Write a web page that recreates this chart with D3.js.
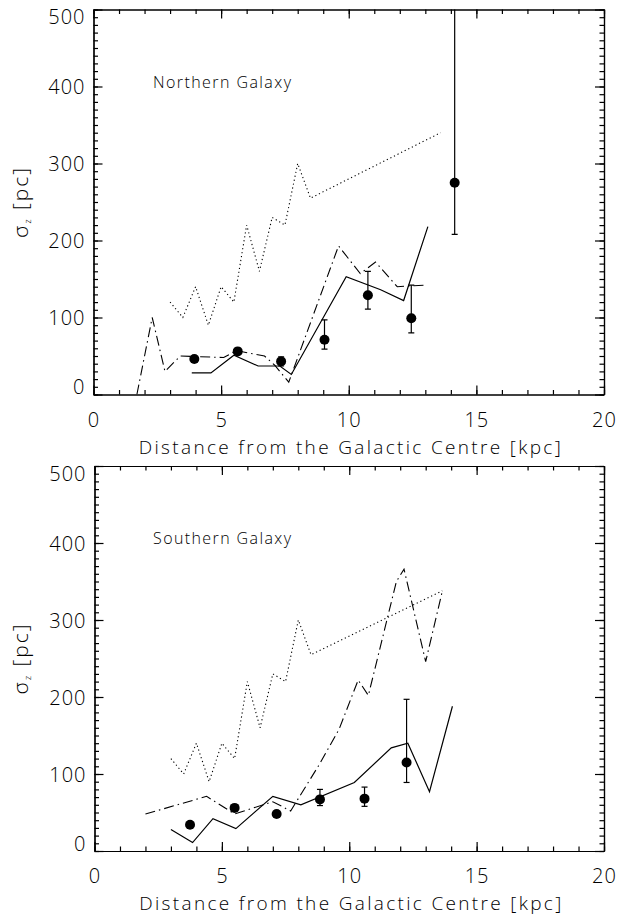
<!DOCTYPE html>
<html>
<head>
<meta charset="utf-8">
<script src="https://cdn.jsdelivr.net/npm/d3@7"></script>
<style>
  body { margin: 0; background: #fff; }
  text { font-family: "Open Sans", "DejaVu Sans", sans-serif; font-weight: 300; fill: #000; }
</style>
</head>
<body>
<svg id="chart" width="621" height="915"></svg>
<script>
// Axis ticks
const xMajor = [0, 5, 10, 15, 20];
const yMajor = [0, 100, 200, 300, 400, 500];
const xTitle = "Distance from the Galactic Centre [kpc]";

// Northern galaxy: model curves [R (kpc), sigma_z (pc)]
const northDotted = [[3,120],[3.5,100],[4,140],[4.5,90],[5,140],[5.5,120],[6,220],[6.5,160],[7,230],[7.5,220],[8,300],[8.5,255],[13.6,340]];
const northDashDot = [[1.7,0],[2.3,100],[2.8,30],[3.4,50],[5.1,48],[5.6,57],[6.7,50],[7.1,38],[7.65,16],[9.6,193],[10.45,157],[11.05,172],[11.9,140],[12.95,142]];
const northSolid = [[3.85,28],[4.6,28],[5.5,51],[6.45,37],[7.3,37],[7.75,26],[9.9,153],[11.25,136],[12.15,122],[13.1,218]];
// Northern galaxy: measurements with error ranges
const northR    = [3.95, 5.65, 7.35, 9.05, 10.75, 12.45, 14.15];
const northSig  = [46, 56, 43, 71, 129, 99, 275];
const northLow  = [42, 52, 37, 59, 111, 80, 208];
const northHigh = [50, 60, 49, 97, 160, 142, 560];

// Southern galaxy: model curves
const southDotted = [[3,120],[3.5,100],[4,140],[4.5,90],[5,140],[5.5,120],[6,220],[6.5,160],[7,230],[7.5,220],[8,300],[8.5,255],[13.65,338]];
const southDashDot = [[2,48],[4.4,71],[5.5,48],[7.0,64],[7.7,52],[8.8,111],[9.6,158],[10.35,222],[10.75,202],[11.85,350],[12.15,366],[13.0,246],[13.65,337]];
const southSolid = [[3,28],[3.85,11],[4.65,42],[5.55,29],[7.0,71],[8.1,60],[10.2,89],[11.65,134],[12.3,140],[13.15,77],[14.05,188]];
// Southern galaxy: measurements
const southR    = [3.75, 5.5, 7.15, 8.85, 10.6, 12.25];
const southSig  = [34, 56, 48, 67, 68, 115];
const southLow  = [30, 52, 44, 59, 58, 89];
const southHigh = [38, 60, 52, 80, 83, 197];

const svg = d3.select("#chart");

const panels = [
  { id: "n", name: "Northern Galaxy", box: { l: 93.5, r: 604, t: 9.5, b: 394.5 },
    dotted: northDotted, dashdot: northDashDot, solid: northSolid,
    R: northR, sig: northSig, lo: northLow, hi: northHigh },
  { id: "s", name: "Southern Galaxy", box: { l: 94.5, r: 604, t: 466, b: 851 },
    dotted: southDotted, dashdot: southDashDot, solid: southSolid,
    R: southR, sig: southSig, lo: southLow, hi: southHigh }
];

panels.forEach(p => {
  const { l, r, t, b } = p.box;
  const x = d3.scaleLinear().domain([0, 20]).range([l, r]);
  const y = d3.scaleLinear().domain([0, 500]).range([b, t]);

  const g = svg.append("g");

  svg.append("clipPath").attr("id", "clip-" + p.id)
    .append("rect").attr("x", l).attr("y", t).attr("width", r - l).attr("height", b - t);

  // Minor ticks (inward)
  const xMinor = d3.range(0, 21, 1);
  const yMinor = d3.range(0, 501, 10);
  const minor = (axis) => axis.tickSize(-4.5).tickSizeOuter(0).tickFormat("");
  g.append("g").attr("transform", `translate(0,${b})`).call(minor(d3.axisBottom(x).tickValues(xMinor)));
  g.append("g").attr("transform", `translate(0,${t})`).call(minor(d3.axisTop(x).tickValues(xMinor)));
  g.append("g").attr("transform", `translate(${l},0)`).call(minor(d3.axisLeft(y).tickValues(yMinor)));
  g.append("g").attr("transform", `translate(${r},0)`).call(minor(d3.axisRight(y).tickValues(yMinor)));

  // Major ticks with labels on bottom and left
  g.append("g").attr("transform", `translate(0,${b})`)
    .call(d3.axisBottom(x).tickValues(xMajor).tickSize(-9).tickSizeOuter(0).tickPadding(18).tickFormat(d3.format("d")));
  g.append("g").attr("transform", `translate(0,${t})`)
    .call(d3.axisTop(x).tickValues(xMajor).tickSize(-9).tickSizeOuter(0).tickFormat(""));
  const left = g.append("g").attr("transform", `translate(${l},0)`)
    .call(d3.axisLeft(y).tickValues(yMajor).tickSize(-9).tickSizeOuter(0).tickPadding(8).tickFormat(d3.format("d")));
  g.append("g").attr("transform", `translate(${r},0)`)
    .call(d3.axisRight(y).tickValues(yMajor).tickSize(-9).tickSizeOuter(0).tickFormat(""));

  g.selectAll(".domain, .tick line").attr("stroke", "#000").attr("stroke-width", 1.2);
  g.selectAll(".tick text").attr("font-size", 20).attr("letter-spacing", 1)
    .style("font-family", '"Open Sans", "DejaVu Sans", sans-serif').style("font-weight", 300);
  // keep end labels of the value axis inside the frame
  left.selectAll(".tick text").attr("dy", d => d === 0 ? "-0.05em" : d === 500 ? "0.72em" : "0.35em");

  // Axis titles
  svg.append("text")
    .attr("x", (l + r) / 2 + 1).attr("y", b + 59)
    .attr("text-anchor", "middle").attr("font-size", 19)
    .attr("textLength", 422).attr("lengthAdjust", "spacing")
    .text(xTitle);

  const yt = svg.append("text")
    .attr("transform", `translate(28,${(t + b) / 2}) rotate(-90)`)
    .attr("text-anchor", "middle").attr("font-size", 21).attr("letter-spacing", 2);
  yt.append("tspan").text("\u03C3");
  yt.append("tspan").attr("font-size", 9).attr("dy", 3).text("z");
  yt.append("tspan").attr("dy", -3).text(" [pc]");

  // Panel name
  svg.append("text")
    .attr("x", 153).attr("y", t + 78)
    .attr("font-size", 16).attr("textLength", 138).attr("lengthAdjust", "spacing")
    .text(p.name);

  // Model curves
  const plot = svg.append("g").attr("clip-path", `url(#clip-${p.id})`);
  const line = d3.line().x(d => x(d[0])).y(d => y(d[1]));
  plot.append("path").datum(p.dotted).attr("d", line)
    .attr("fill", "none").attr("stroke", "#000").attr("stroke-width", 1.1).attr("stroke-dasharray", "1.2,2.8");
  plot.append("path").datum(p.dashdot).attr("d", line)
    .attr("fill", "none").attr("stroke", "#000").attr("stroke-width", 1.1).attr("stroke-dasharray", "10,4,1.5,4");
  plot.append("path").datum(p.solid).attr("d", line)
    .attr("fill", "none").attr("stroke", "#000").attr("stroke-width", 1.2);

  // Measurements with error bars
  const pts = p.R.map((R, i) => ({ R, v: p.sig[i], lo: p.lo[i], hi: p.hi[i] }));
  const eb = plot.selectAll("g.obs").data(pts).enter().append("g").attr("class", "obs");
  eb.append("line").attr("x1", d => x(d.R)).attr("x2", d => x(d.R))
    .attr("y1", d => y(d.lo)).attr("y2", d => y(d.hi)).attr("stroke", "#000").attr("stroke-width", 1.2);
  eb.append("line").attr("x1", d => x(d.R) - 3).attr("x2", d => x(d.R) + 3)
    .attr("y1", d => y(d.lo)).attr("y2", d => y(d.lo)).attr("stroke", "#000").attr("stroke-width", 1.2);
  eb.append("line").attr("x1", d => x(d.R) - 3).attr("x2", d => x(d.R) + 3)
    .attr("y1", d => y(d.hi)).attr("y2", d => y(d.hi)).attr("stroke", "#000").attr("stroke-width", 1.2);
  eb.append("circle").attr("cx", d => x(d.R)).attr("cy", d => y(d.v)).attr("r", 5).attr("fill", "#000");
});
</script>
</body>
</html>
